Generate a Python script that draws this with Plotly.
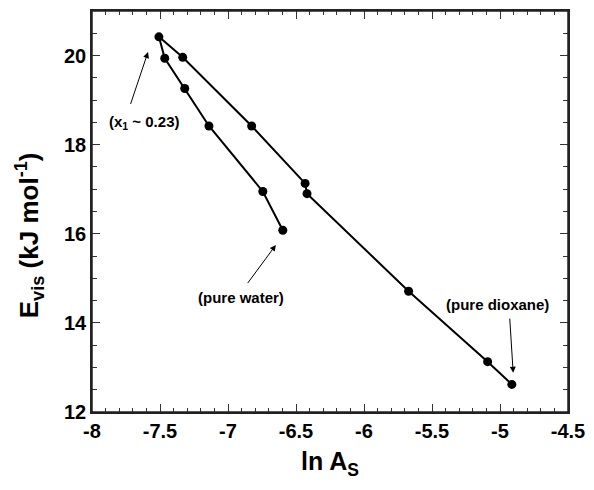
import plotly.graph_objects as go

ln_As = [-6.597, -6.744, -7.140, -7.318, -7.465, -7.508, -7.333, -6.826, -6.433, -6.419, -5.672, -5.091, -4.913]
E_vis = [16.08, 16.95, 18.42, 19.26, 19.94, 20.42, 19.96, 18.42, 17.13, 16.90, 14.71, 13.13, 12.62]

x_ticks = [-8, -7.5, -7, -6.5, -6, -5.5, -5, -4.5]
x_tick_labels = ["-8", "-7.5", "-7", "-6.5", "-6", "-5.5", "-5", "-4.5"]
y_ticks = [12, 14, 16, 18, 20]
y_tick_labels = ["12", "14", "16", "18", "20"]

FONT = "Liberation Sans, Arial, sans-serif"

fig = go.Figure()
fig.add_trace(go.Scatter(
    x=ln_As, y=E_vis, mode="lines+markers",
    line=dict(color="black", width=2),
    marker=dict(color="black", size=9),
    showlegend=False,
))

fig.update_layout(
    xaxis=dict(
        range=[-8, -4.5], tickmode="array", tickvals=x_ticks,
        ticktext=["<b>%s</b>" % t for t in x_tick_labels],
        showline=True, linecolor="#222", linewidth=1.5, mirror="allticks",
        ticks="inside", ticklen=8, tickcolor="#333", tickwidth=1,
        showgrid=False, zeroline=False,
        tickfont=dict(family=FONT, size=20, color="black"),
        minor=dict(dtick=0.1, tick0=-8, ticks="inside", ticklen=4, tickcolor="#333", tickwidth=1, showgrid=False),
        title=dict(text="<b>ln A<sub>S</sub></b>", font=dict(family=FONT, size=25, color="black"), standoff=12),
    ),
    yaxis=dict(
        range=[12, 21], tickmode="array", tickvals=y_ticks,
        ticktext=["<b>%s</b>" % t for t in y_tick_labels],
        showline=True, linecolor="#222", linewidth=1.5, mirror="allticks",
        ticks="inside", ticklen=8, tickcolor="#333", tickwidth=1,
        showgrid=False, zeroline=False,
        tickfont=dict(family=FONT, size=20, color="black"),
        minor=dict(dtick=0.5, tick0=12, ticks="inside", ticklen=5, tickcolor="#333", tickwidth=1, showgrid=False),
    ),
)

# y-axis title (placed slightly below the axis centre, as in the reference)
fig.add_annotation(x=-0.133, y=0.44, xref="paper", yref="paper", textangle=-90,
                   xanchor="center", yanchor="middle", showarrow=False,
                   text="<b>E<sub>vis</sub> (kJ mol<sup>-1</sup>)</b>",
                   font=dict(family=FONT, size=26, color="black"))

# plot frame
fig.add_shape(type="rect", xref="paper", yref="paper", x0=0, y0=0, x1=1, y1=1,
              line=dict(color="#222", width=1.5), fillcolor="rgba(0,0,0,0)", layer="above")

ann_font = dict(family=FONT, size=15, color="black")
# (x1 ~ 0.23)
fig.add_annotation(x=-7.588, y=20.08, ax=-7.72, ay=18.88, xref="x", yref="y", axref="x", ayref="y",
                   text="", showarrow=True, arrowhead=2, arrowsize=1.2, arrowwidth=1, arrowcolor="black")
fig.add_annotation(x=-7.617, y=18.49, xref="x", yref="y", text="<b>(x<sub>1</sub> ~ 0.23)</b>",
                   showarrow=False, font=ann_font)
# (pure water)
fig.add_annotation(x=-6.648, y=15.75, ax=-6.863, ay=14.86, xref="x", yref="y", axref="x", ayref="y",
                   text="", showarrow=True, arrowhead=2, arrowsize=1.2, arrowwidth=1, arrowcolor="black")
fig.add_annotation(x=-6.908, y=14.58, xref="x", yref="y", text="<b>(pure water)</b>",
                   showarrow=False, font=ann_font)
# (pure dioxane)
fig.add_annotation(x=-4.903, y=12.88, ax=-4.929, ay=14.13, xref="x", yref="y", axref="x", ayref="y",
                   text="", showarrow=True, arrowhead=2, arrowsize=1.2, arrowwidth=1, arrowcolor="black")
fig.add_annotation(x=-5.021, y=14.42, xref="x", yref="y", text="<b>(pure dioxane)</b>",
                   showarrow=False, font=ann_font)

fig.update_layout(
    width=594, height=490,
    margin=dict(l=92, r=18, t=9, b=78),
    plot_bgcolor="white", paper_bgcolor="white",
    font=dict(family=FONT, color="black"),
)

fig.write_html("out.html")
